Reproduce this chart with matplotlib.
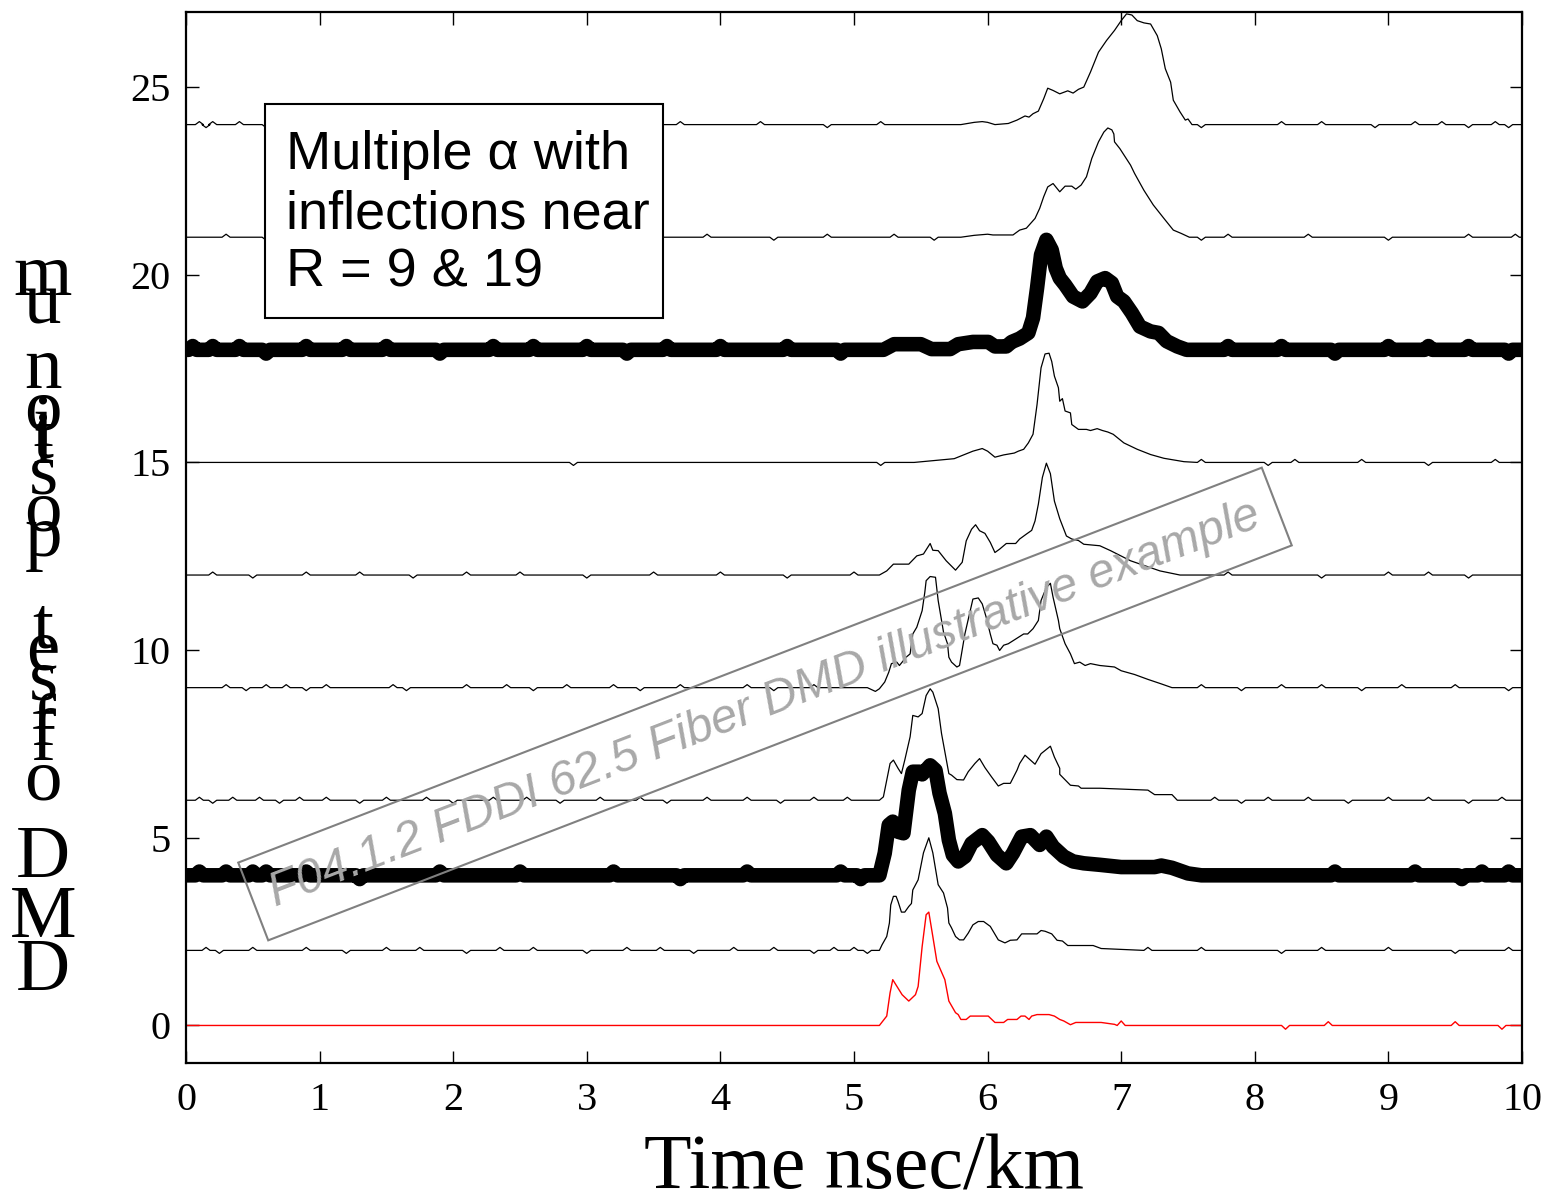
import matplotlib
matplotlib.use("Agg")
import matplotlib.pyplot as plt
from matplotlib.patches import Rectangle

# ---------------- data ----------------
x_ticks = [0, 1, 2, 3, 4, 5, 6, 7, 8, 9, 10]
y_ticks = [0, 5, 10, 15, 20, 25]

# pulse shapes (x in nsec/km, y in microns offset), baseline of each trace
base_0 = 0
pulse_0 = [(5.19,0),(5.245,0.25),(5.27,0.87),(5.29,1.22),(5.36,0.82),(5.41,0.65),(5.46,0.82),
           (5.48,1.04),(5.51,2.1),(5.54,2.95),(5.56,3.02),(5.59,2.37),(5.62,1.71),(5.68,1.22),
           (5.71,0.65),(5.76,0.34),(5.78,0.29),(5.80,0.16),(5.84,0.16),(5.87,0.25),(6.005,0.25),
           (6.055,0.08),(6.12,0.08),(6.15,0.16),(6.22,0.16),(6.25,0.25),(6.28,0.25),(6.31,0.16),
           (6.33,0.25),(6.37,0.29),(6.46,0.29),(6.5,0.25),(6.54,0.16),(6.57,0.12),(6.62,0.02),
           (6.66,0.08),(6.85,0.08),(6.95,0.03)]
wig_0 = [(7.0,0.12),(8.23,-0.1),(8.55,0.1),(9.5,0.1),(9.85,-0.1)]

base_2 = 2
pulse_2 = [(5.19,2.0),(5.21,2.15),(5.245,2.37),(5.265,2.73),(5.275,3.21),(5.295,3.44),(5.315,3.44),
           (5.33,3.30),(5.355,3.02),(5.38,3.02),(5.41,3.17),(5.43,3.25),(5.44,3.61),(5.48,3.88),
           (5.52,4.6),(5.56,5.0),(5.59,4.6),(5.63,3.75),(5.67,3.53),(5.70,3.13),(5.71,2.73),
           (5.73,2.60),(5.76,2.37),(5.79,2.28),(5.82,2.28),(5.855,2.46),(5.89,2.68),(5.93,2.77),
           (5.97,2.77),(6.02,2.64),(6.08,2.28),(6.13,2.20),(6.17,2.27),(6.22,2.28),(6.255,2.44),
           (6.37,2.44),(6.40,2.53),(6.43,2.51),(6.48,2.44),(6.52,2.27),(6.56,2.25),(6.60,2.13),
           (6.79,2.13),(6.85,2.05)]
wig_2 = [(0.15,0.08),(0.25,-0.08),(0.5,0.08),(0.9,0.08),(1.2,-0.08),(1.5,0.08),(1.75,0.08),
         (2.1,-0.08),(2.35,0.08),(2.6,0.08),(3.0,-0.08),(3.3,0.08),(3.55,0.08),(3.8,-0.08),
         (4.1,0.08),(4.4,0.08),(4.7,-0.08),(4.85,0.08),(5.0,0.08),(5.1,-0.08),
         (7.2,0.08),(7.6,0.08),(8.2,-0.08),(8.5,0.08),(9.0,0.08),(9.5,-0.08),(9.9,0.08)]

base_4 = 4
pulse_4 = [(5.19,4.0),(5.23,4.59),(5.26,5.34),(5.29,5.43),(5.33,5.16),(5.37,5.12),(5.41,6.27),
           (5.44,6.76),(5.49,6.76),(5.51,6.69),(5.57,6.93),(5.61,6.80),(5.64,6.19),(5.68,5.65),
           (5.71,4.94),(5.74,4.54),(5.78,4.37),(5.83,4.50),(5.88,4.85),(5.96,5.07),(6.005,4.90),
           (6.07,4.54),(6.14,4.32),(6.19,4.59),(6.255,5.03),(6.32,5.07),(6.39,4.81),(6.44,5.03),
           (6.49,4.76),(6.57,4.50),(6.64,4.37),(6.72,4.32),(6.84,4.28),(7.0,4.22),(7.25,4.22),
           (7.3,4.26),(7.38,4.2),(7.5,4.05),(7.6,4.0)]
wig_4 = [(0.1,0.1),(0.3,0.1),(0.5,0.1),(0.6,0.1),(0.9,0.1),(1.3,-0.1),(1.9,0.1),(2.5,0.1),
         (3.2,0.1),(3.7,-0.1),(4.2,0.1),(4.9,0.1),(5.05,-0.1),(8.6,0.1),(9.2,0.1),(9.55,-0.1),
         (9.7,0.1),(9.9,0.1)]

base_6 = 6
pulse_6 = [(5.19,6.0),(5.22,6.09),(5.245,6.54),(5.27,6.98),(5.295,7.07),(5.33,6.85),(5.355,6.71),
           (5.38,7.07),(5.42,7.69),(5.44,8.26),(5.48,8.22),(5.51,8.31),(5.54,8.79),(5.57,8.97),
           (5.59,8.88),(5.63,8.44),(5.655,7.78),(5.68,7.29),(5.71,6.71),(5.73,6.67),(5.77,6.55),
           (5.82,6.54),(5.855,6.76),(5.905,6.98),(5.94,7.11),(5.98,6.87),(6.03,6.62),(6.08,6.38),
           (6.12,6.45),(6.17,6.45),(6.22,6.80),(6.24,6.98),(6.28,7.20),(6.355,6.96),(6.40,7.24),
           (6.47,7.44),(6.50,7.15),(6.54,6.85),(6.54,6.69),(6.62,6.40),(6.68,6.38),(6.70,6.32),
           (6.84,6.32),(7.2,6.27),(7.25,6.15),(7.38,6.15),(7.42,6.0)]
wig_6 = [(0.1,0.08),(0.2,-0.08),(0.35,0.08),(0.55,0.08),(0.7,-0.08),(0.85,0.08),(1.05,0.08),
         (1.3,-0.08),(1.5,0.08),(1.8,0.08),(2.0,-0.08),(2.3,0.08),(2.55,0.08),(2.8,-0.08),
         (3.1,0.08),(3.4,0.08),(3.6,-0.08),(3.9,0.08),(4.2,0.08),(4.45,-0.08),(4.7,0.08),
         (4.95,0.08),(7.7,0.08),(7.9,-0.08),(8.1,0.08),(8.4,0.08),(8.7,-0.08),(9.0,0.08),
         (9.3,0.08),(9.6,-0.08),(9.85,0.08)]

base_9 = 9
pulse_9 = [(5.10,9.0),(5.16,8.9),(5.19,8.97),(5.23,9.15),(5.26,9.41),(5.28,9.64),(5.32,9.68),
           (5.34,9.59),(5.37,9.72),(5.39,9.81),(5.42,9.90),(5.44,10.43),(5.47,10.61),(5.51,11.05),
           (5.53,11.54),(5.54,11.85),(5.57,11.96),(5.61,11.94),(5.63,11.32),(5.67,10.48),
           (5.70,10.17),(5.71,9.81),(5.73,9.68),(5.77,9.55),(5.79,9.59),(5.83,10.43),(5.87,11.05),
           (5.89,11.36),(5.93,11.39),(5.96,11.23),(5.99,10.87),(6.02,10.43),(6.04,10.17),
           (6.07,10.13),(6.09,9.99),(6.12,10.13),(6.155,10.17),(6.19,10.25),(6.23,10.34),
           (6.27,10.43),(6.30,10.43),(6.34,10.57),(6.38,10.79),(6.40,11.32),(6.44,11.67),
           (6.47,11.78),(6.49,11.41),(6.53,10.79),(6.54,10.57),(6.58,10.17),(6.62,9.90),
           (6.65,9.64),(6.69,9.68),(6.73,9.59),(6.77,9.64),(6.84,9.59),(6.95,9.55),(7.0,9.45),
           (7.1,9.35),(7.2,9.22),(7.3,9.1),(7.38,9.0)]
wig_9 = [(0.3,0.08),(0.45,-0.08),(0.6,0.08),(0.75,0.08),(0.9,-0.08),(1.05,0.08),(1.55,0.08),
         (1.65,-0.08),(2.1,0.08),(2.4,0.08),(2.6,-0.08),(2.85,0.08),(3.2,0.08),(3.4,-0.08),
         (3.7,0.08),(4.2,0.08),(4.4,-0.08),(4.7,0.08),(7.6,0.08),(7.9,-0.08),(8.2,0.08),
         (8.5,0.08),(8.8,-0.08),(9.1,0.08),(9.5,0.08),(9.9,-0.08)]

base_12 = 12
pulse_12 = [(5.19,12.0),(5.245,12.11),(5.295,12.29),(5.41,12.29),(5.47,12.51),(5.52,12.56),
            (5.57,12.84),(5.59,12.66),(5.63,12.65),(5.69,12.38),(5.76,12.13),(5.81,12.34),
            (5.84,12.91),(5.88,13.22),(5.91,13.34),(5.94,13.18),(5.98,13.11),(6.02,12.87),
            (6.055,12.60),(6.09,12.69),(6.14,12.84),(6.21,12.84),(6.24,12.96),(6.29,13.09),
            (6.33,13.19),(6.355,13.44),(6.38,13.89),(6.41,14.6),(6.44,14.98),(6.47,14.7),
            (6.50,13.97),(6.54,13.5),(6.59,13.04),(6.63,12.96),(6.68,12.92),(6.72,12.82),
            (6.84,12.78),(6.92,12.65),(7.07,12.38),(7.29,12.11),(7.44,12.0)]
wig_12 = [(0.2,0.08),(0.5,-0.08),(0.9,0.08),(1.3,0.08),(1.7,-0.08),(2.1,0.08),(2.5,0.08),
          (3.0,-0.08),(3.5,0.08),(4.0,0.08),(4.5,-0.08),(5.0,0.08),(7.8,0.08),(8.5,-0.08),
          (9.0,0.08),(9.3,0.08),(9.6,-0.08)]

base_15 = 15
pulse_15 = [(5.45,15.0),(5.6,15.05),(5.75,15.1),(5.89,15.30),(5.96,15.37),(6.0,15.3),(6.055,15.14),
            (6.12,15.2),(6.2,15.25),(6.23,15.30),(6.27,15.35),(6.305,15.52),(6.34,15.75),
            (6.37,16.54),(6.40,17.52),(6.43,17.89),(6.46,17.91),(6.48,17.69),(6.50,17.30),
            (6.53,16.99),(6.54,16.63),(6.56,16.70),(6.58,16.37),(6.62,16.32),(6.63,16.01),
            (6.68,15.88),(6.74,15.88),(6.77,15.85),(6.82,15.9),(6.86,15.85),(6.90,15.81),
            (6.94,15.75),(7.02,15.52),(7.12,15.35),(7.22,15.21),(7.32,15.11),(7.47,15.02)]
wig_15 = [(2.9,-0.08),(5.2,-0.08),(7.6,0.08),(8.1,-0.08),(8.3,0.08),(8.8,0.08),(9.3,-0.08),
          (9.8,0.08)]

base_18 = 18
pulse_18 = [(5.22,18.0),(5.3,18.15),(5.5,18.15),(5.58,18.02),(5.72,18.02),(5.78,18.15),
            (5.89,18.21),(6.005,18.21),(6.055,18.09),(6.14,18.09),(6.18,18.21),(6.24,18.30),
            (6.305,18.45),(6.34,18.85),(6.37,19.64),(6.40,20.53),(6.44,20.93),(6.48,20.66),
            (6.51,20.17),(6.54,19.91),(6.58,19.73),(6.64,19.42),(6.71,19.29),(6.77,19.51),
            (6.82,19.82),(6.88,19.91),(6.93,19.78),(6.97,19.42),(7.02,19.29),(7.08,18.98),
            (7.14,18.62),(7.22,18.49),(7.28,18.45),(7.34,18.23),(7.42,18.09),(7.49,18.0)]
wig_18 = [(0.05,0.1),(0.2,0.1),(0.4,0.1),(0.6,-0.1),(0.9,0.1),(1.2,0.1),(1.5,0.1),(1.9,-0.1),
          (2.3,0.1),(2.6,0.1),(3.0,0.1),(3.3,-0.1),(3.6,0.1),(4.0,0.1),(4.5,0.1),(4.9,-0.1),
          (7.8,0.1),(8.2,0.1),(8.6,-0.1),(9.0,0.1),(9.3,0.1),(9.6,0.1),(9.9,-0.1)]

base_21 = 21
pulse_21 = [(5.8,21.0),(5.9,21.05),(6.0,21.08),(6.04,21.06),(6.19,21.06),(6.24,21.19),
            (6.29,21.24),(6.355,21.50),(6.39,21.77),(6.42,22.08),(6.45,22.34),(6.49,22.43),
            (6.54,22.21),(6.58,22.36),(6.63,22.36),(6.66,22.28),(6.70,22.39),(6.74,22.61),
            (6.78,23.10),(6.83,23.54),(6.87,23.80),(6.90,23.91),(6.93,23.86),(6.945,23.75),
            (6.95,23.54),(6.99,23.36),(7.07,22.92),(7.10,22.70),(7.17,22.25),(7.24,21.86),
            (7.32,21.50),(7.39,21.19),(7.45,21.10),(7.51,21.0)]
wig_21 = [(0.3,0.08),(0.6,-0.08),(1.2,0.08),(1.9,0.08),(2.5,-0.08),(3.1,0.08),(3.9,0.08),
          (4.4,-0.08),(4.8,0.08),(5.3,0.08),(5.6,-0.08),(7.6,-0.08),(7.8,0.08),(8.4,0.08),
          (9.0,-0.08),(9.6,0.08),(9.95,0.08)]

base_24 = 24
pulse_24 = [(5.8,24.0),(5.9,24.06),(5.96,24.08),(6.0,24.06),(6.055,24.0),(6.155,24.03),
            (6.22,24.12),(6.28,24.23),(6.31,24.2),(6.34,24.29),(6.38,24.36),(6.42,24.69),
            (6.45,24.97),(6.49,24.91),(6.54,24.82),(6.6,24.9),(6.64,24.84),(6.68,24.94),
            (6.72,25.0),(6.77,25.40),(6.83,25.93),(6.89,26.24),(6.95,26.51),(7.00,26.77),
            (7.04,26.95),(7.08,26.92),(7.12,26.77),(7.17,26.71),(7.22,26.68),(7.27,26.37),
            (7.30,26.02),(7.33,25.49),(7.37,25.13),(7.39,24.65),(7.44,24.34),(7.48,24.12),
            (7.50,24.15),(7.53,24.0)]
wig_24 = [(0.1,0.08),(0.15,-0.08),(0.2,0.08),(0.4,0.08),(0.6,-0.08),(1.0,0.08),(1.3,0.08),
          (1.7,-0.08),(2.2,0.08),(2.8,0.08),(3.3,-0.08),(3.7,0.08),(4.3,0.08),(4.8,-0.08),
          (5.2,0.08),(7.6,-0.08),(8.2,0.08),(8.5,0.08),(8.9,-0.08),(9.2,0.08),(9.4,0.08),
          (9.6,-0.08),(9.8,0.08),(9.9,-0.08)]

ylabel_letters = ["m","u","n","o","i","t","i","s","o","p","t","e","s","f","f","o","D","M","D"]
ylabel_baselines_px = [295,323,388,430,446,458,463,493,530,556,647,670,700,745,760,800,877,937,990]

box_text = "Multiple \u03b1 with\ninflections near\nR = 9 & 19"
watermark = "F04.1.2 FDDI 62.5 Fiber DMD illustrative example"


def build(base, pulse, wig):
    x0 = pulse[0][0]
    x1 = pulse[-1][0]
    pts = [(0.0, base)]
    for (wx, dy) in wig:
        if wx < x0 - 0.03:
            pts += [(wx - 0.03, base), (wx, base + dy), (wx + 0.03, base)]
    pts += pulse
    for (wx, dy) in wig:
        if wx > x1 + 0.03:
            pts += [(wx - 0.03, base), (wx, base + dy), (wx + 0.03, base)]
    pts.append((10.0, base))
    xs = [max(0.0, min(10.0, p[0])) for p in pts]
    ys = [p[1] for p in pts]
    return xs, ys


W, H = 1545, 1202
fig = plt.figure(figsize=(W / 100, H / 100), dpi=100)
ax = fig.add_axes([186 / W, 1 - 1063 / H, (1522 - 186) / W, (1063 - 12) / H])

serif = ["Liberation Serif", "DejaVu Serif"]
sans = ["Liberation Sans", "DejaVu Sans"]

thin = [(base_2, pulse_2, wig_2), (base_6, pulse_6, wig_6), (base_9, pulse_9, wig_9),
        (base_12, pulse_12, wig_12), (base_15, pulse_15, wig_15), (base_21, pulse_21, wig_21),
        (base_24, pulse_24, wig_24)]
for b, p, w in thin:
    xs, ys = build(b, p, w)
    ax.plot(xs, ys, color="black", lw=0.9, zorder=2)

for b, p, w in [(base_4, pulse_4, wig_4), (base_18, pulse_18, wig_18)]:
    xs, ys = build(b, p, w)
    ax.plot(xs, ys, color="black", lw=10.5, solid_capstyle="round",
            solid_joinstyle="round", zorder=3)

xs, ys = build(base_0, pulse_0, wig_0)
ax.plot(xs, ys, color="red", lw=1.0, zorder=2)

ax.set_xlim(0, 10)
ax.set_ylim(-1, 27)
ax.set_xticks(x_ticks)
ax.set_yticks(y_ticks)
ax.tick_params(direction="in", length=9, width=1.0, top=True, right=True,
               labelsize=29)
ax.tick_params(axis="x", pad=14)
ax.tick_params(axis="y", pad=11)
for lab in ax.get_xticklabels() + ax.get_yticklabels():
    lab.set_fontfamily(serif)
for s in ax.spines.values():
    s.set_linewidth(1.6)

# x label
fig.text(864 / W, 1 - 1188 / H, "Time nsec/km", fontsize=56, family=serif,
         ha="center", va="baseline")

# stacked y label letters
for ch, by in zip(ylabel_letters, ylabel_baselines_px):
    fig.text(43 / W, 1 - by / H, ch, fontsize=54, family=serif, ha="center", va="baseline")

# annotation box
rect = Rectangle((265 / W, 1 - 318 / H), (663 - 265) / W, (318 - 104) / H,
                 transform=fig.transFigure, facecolor="white", edgecolor="black",
                 lw=1.5, zorder=5)
fig.patches.append(rect)
fig.text(286 / W, 1 - 214 / H, box_text, fontsize=39, family=sans, ha="left",
         va="center", linespacing=1.22, zorder=6)

# watermark
fig.text(765 / W, 1 - 704 / H, watermark, fontsize=34.5, family=sans, style="italic",
         color="#a8a8a8", rotation=21.1, rotation_mode="anchor", ha="center", va="center",
         zorder=7,
         bbox=dict(boxstyle="square,pad=0.4", facecolor="none", edgecolor="#808080", lw=1.5))

fig.savefig("out.png", dpi=100)
